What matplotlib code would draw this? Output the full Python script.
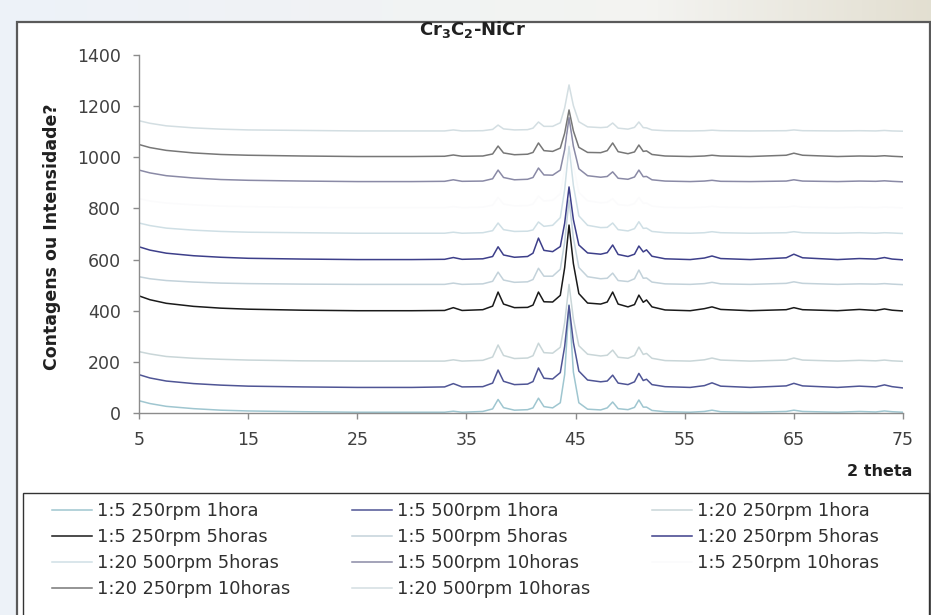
import numpy as np
import matplotlib
matplotlib.use('Agg')
import matplotlib.pyplot as plt
from matplotlib.patches import Rectangle

plt.rcParams['font.family'] = 'DejaVu Sans'

two_theta = [5, 6, 7.5, 10, 12.5, 15, 20, 25, 30, 33.0,
             33.8, 34.6, 36.5, 37.4, 37.9, 38.4, 39.4, 40.6, 41.1, 41.6,
             42.1, 42.9, 43.6, 44.0, 44.4, 44.8, 45.3, 46.1, 47.3, 47.9,
             48.4, 48.9, 49.8, 50.4, 50.8, 51.2, 51.5, 52.0, 53.2, 55.5,
             56.8, 57.5, 58.3, 61.0, 64.3, 65.0, 65.8, 69.0, 71.0, 72.5,
             73.3, 74.0, 75.0]

s_1_5_250_1h = [48, 37, 26, 17, 11, 8, 5, 3, 3, 3,
                7, 3, 6, 16, 53, 21, 11, 13, 20, 58,
                25, 20, 40, 150, 423, 160, 40, 15, 12, 20,
                43, 17, 13, 22, 51, 23, 23, 10, 5, 3,
                6, 11, 5, 3, 6, 11, 6, 3, 6, 4,
                8, 5, 3]
s_1_5_500_1h = [150, 137, 125, 115, 109, 105, 102, 100, 100, 102,
                115, 102, 103, 117, 168, 124, 111, 113, 123, 176,
                136, 133, 158, 260, 420, 276, 164, 129, 122, 125,
                148, 117, 111, 122, 155, 127, 132, 111, 103, 100,
                107, 118, 105, 100, 106, 116, 106, 100, 105, 102,
                110, 103, 98]
s_1_20_250_1h = [240, 231, 221, 214, 210, 207, 204, 203, 203, 203,
                 208, 203, 206, 219, 266, 225, 213, 215, 224, 273,
                 236, 234, 257, 353, 503, 368, 263, 230, 223, 226,
                 246, 218, 214, 225, 258, 229, 233, 214, 205, 203,
                 208, 215, 207, 203, 207, 215, 207, 203, 206, 204,
                 207, 204, 202]
s_1_5_250_5h = [458, 443, 429, 417, 410, 406, 402, 400, 400, 401,
                412, 401, 404, 418, 473, 426, 412, 413, 422, 473,
                435, 434, 460, 568, 735, 584, 467, 430, 426, 434,
                473, 426, 415, 424, 461, 433, 442, 415, 403, 400,
                408, 415, 405, 400, 404, 412, 404, 400, 405, 401,
                407, 402, 399]
s_1_5_500_5h = [533, 525, 518, 512, 508, 506, 504, 503, 503, 503,
                508, 503, 505, 515, 551, 520, 511, 513, 522, 566,
                535, 535, 562, 668, 833, 685, 569, 533, 525, 527,
                547, 518, 514, 525, 559, 527, 528, 512, 505, 503,
                506, 511, 505, 503, 507, 513, 507, 503, 505, 504,
                506, 504, 502]
s_1_20_250_5h = [650, 637, 625, 615, 609, 605, 602, 600, 600, 601,
                 608, 601, 603, 612, 650, 618, 609, 612, 625, 684,
                 636, 631, 651, 742, 884, 756, 657, 626, 621, 627,
                 657, 620, 612, 621, 653, 630, 638, 613, 603, 600,
                 606, 614, 604, 600, 607, 621, 607, 600, 604, 602,
                 608, 602, 599]
s_1_20_500_5h = [743, 733, 723, 715, 710, 707, 705, 703, 703, 703,
                 707, 703, 705, 713, 743, 717, 710, 711, 716, 747,
                 730, 734, 764, 873, 1043, 890, 771, 734, 725, 726,
                 743, 717, 712, 721, 748, 722, 723, 710, 705, 703,
                 705, 709, 705, 703, 705, 709, 705, 703, 705, 703,
                 705, 704, 702]
s_1_5_500_10h = [950, 939, 928, 919, 913, 910, 907, 905, 905, 906,
                 912, 906, 907, 916, 950, 921, 912, 914, 921, 958,
                 931, 930, 950, 1030, 1155, 1043, 955, 928, 922, 925,
                 943, 918, 914, 923, 950, 924, 925, 912, 907, 905,
                 907, 910, 906, 905, 907, 912, 907, 905, 907, 906,
                 908, 906, 904]
s_1_5_250_10h = [838, 829, 821, 814, 809, 807, 804, 803, 803, 803,
                 807, 803, 805, 813, 843, 817, 810, 811, 817, 848,
                 829, 832, 857, 953, 1103, 968, 863, 830, 822, 824,
                 838, 815, 811, 819, 843, 820, 821, 809, 804, 803,
                 805, 808, 805, 803, 805, 809, 805, 803, 805, 803,
                 805, 804, 802]
s_1_20_250_10h = [1050, 1038, 1027, 1017, 1011, 1008, 1005, 1003, 1003, 1004,
                  1009, 1004, 1005, 1013, 1044, 1017, 1010, 1012, 1019, 1056,
                  1026, 1023, 1036, 1094, 1185, 1103, 1039, 1019, 1018, 1026,
                  1056, 1022, 1014, 1021, 1048, 1023, 1025, 1011, 1005, 1003,
                  1005, 1008, 1005, 1003, 1008, 1016, 1008, 1003, 1005, 1004,
                  1006, 1004, 1002]
s_1_20_500_10h = [1143, 1133, 1123, 1115, 1110, 1107, 1105, 1103, 1103, 1103,
                  1107, 1103, 1104, 1109, 1126, 1111, 1107, 1108, 1114, 1138,
                  1121, 1121, 1135, 1193, 1283, 1202, 1139, 1119, 1116, 1118,
                  1134, 1114, 1110, 1117, 1138, 1116, 1115, 1107, 1104, 1103,
                  1104, 1106, 1104, 1103, 1104, 1107, 1104, 1103, 1104, 1103,
                  1105, 1103, 1102]

labels = ['1:5 250rpm 1hora', '1:5 500rpm 1hora', '1:20 250rpm 1hora',
          '1:5 250rpm 5horas', '1:5 500rpm 5horas', '1:20 250rpm 5horas',
          '1:20 500rpm 5horas', '1:5 500rpm 10horas', '1:5 250rpm 10horas',
          '1:20 250rpm 10horas', '1:20 500rpm 10horas']
series = [s_1_5_250_1h, s_1_5_500_1h, s_1_20_250_1h,
          s_1_5_250_5h, s_1_5_500_5h, s_1_20_250_5h,
          s_1_20_500_5h, s_1_5_500_10h, s_1_5_250_10h,
          s_1_20_250_10h, s_1_20_500_10h]
colors = ['#9fc6d0', '#4f5595', '#c9d6d8',
          '#1a1a1a', '#c3d2da', '#3d3f8a',
          '#cfdfe5', '#8a8aa6', '#fbfbfc',
          '#777777', '#d3dee2']

W, H = 931, 615
fig = plt.figure(figsize=(W/100, H/100), dpi=100)

# page background (light gradient) and chart frame
bg = fig.add_axes([0, 0, 1, 1], zorder=-10)
grad = np.linspace(0, 1, 256)
c0 = np.array([0.93, 0.95, 0.975])
c1 = np.array([0.955, 0.955, 0.945])
c2 = np.array([0.89, 0.875, 0.82])
img = np.where(grad[:, None] < 0.7,
               c0 + (c1 - c0) * (grad[:, None] / 0.7),
               c1 + (c2 - c1) * ((grad[:, None] - 0.7) / 0.3))
bg.imshow(img[None, :, :], aspect='auto', extent=[0, W, 0, H])
bg.set_xlim(0, W)
bg.set_ylim(H, 0)
bg.axis('off')
bg.add_patch(Rectangle((17, 22), 930 - 17, 620 - 22, facecolor='white',
                       edgecolor='#5a5a5a', lw=1.6))
bg.add_patch(Rectangle((23, 493), 929 - 23, 625 - 493, facecolor='white',
                       edgecolor='#333333', lw=1.0))

ax = fig.add_axes([139/W, 1 - 413/H, (903 - 139)/W, (413 - 55)/H])
ax.patch.set_alpha(0)
handles = []
for ys, lab, col in zip(series, labels, colors):
    h, = ax.plot(two_theta, ys, color=col, lw=1.1, label=lab)
    handles.append(h)

ax.set_xlim(5, 75)
ax.set_ylim(0, 1400)
ax.set_xticks(np.arange(5, 76, 10))
ax.set_yticks(np.arange(0, 1401, 200))
for s in ['top', 'right']:
    ax.spines[s].set_visible(False)
for s in ['left', 'bottom']:
    ax.spines[s].set_color('#8c8c8c')
    ax.spines[s].set_linewidth(1.0)
ax.tick_params(direction='out', length=4, width=1, color='#8c8c8c',
               labelsize=12.5, labelcolor='#404040', pad=9)

fig.text(472/W, 1 - 30/H, r'$\mathbf{Cr_3C_2}$-NiCr', ha='center', va='center',
         fontsize=13, fontweight='bold', color='#202020')
fig.text(52/W, 1 - 237/H, 'Contagens ou Intensidade?', rotation=90,
         ha='center', va='center', fontsize=12.5, fontweight='bold', color='#202020')
fig.text(912/W, 1 - 471/H, '2 theta', ha='right', va='center',
         fontsize=11.5, fontweight='bold', color='#202020')

# legend is filled column by column, so reorder to read row by row
order = [0, 3, 6, 9, 1, 4, 7, 10, 2, 5, 8]
leg = fig.legend([handles[i] for i in order], [labels[i] for i in order],
                 loc='upper left', bbox_to_anchor=(43/W, 1 - 493/H),
                 ncol=3, frameon=False, fontsize=12.8, borderpad=0,
                 handlelength=2.25, handletextpad=0.3, columnspacing=3.45,
                 labelspacing=0.45)
for t in leg.get_texts():
    t.set_color('#303030')

fig.savefig('out.png', dpi=100)
plt.close()
